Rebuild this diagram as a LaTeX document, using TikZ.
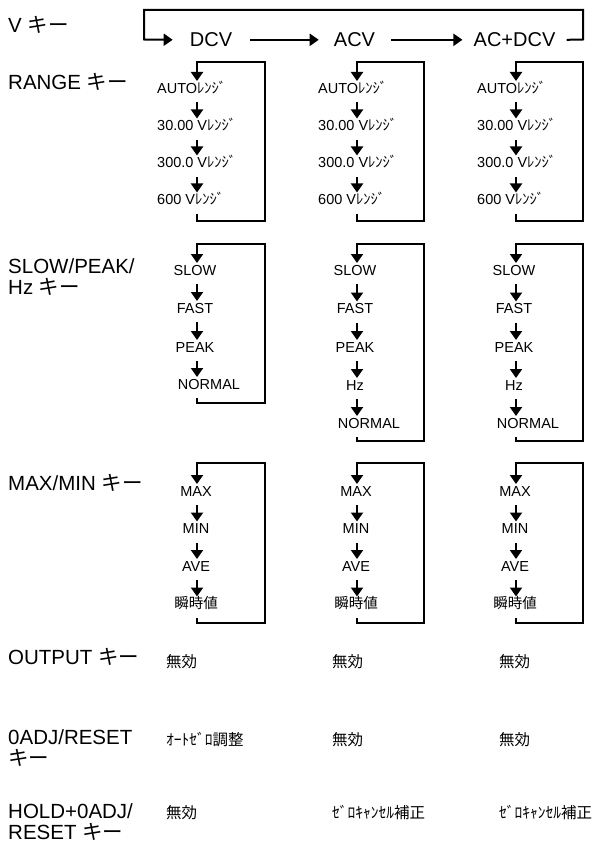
\documentclass[tikz,border=0pt]{standalone}
\usepackage{fontspec}
\setmainfont{Liberation Sans}
\newfontfamily\jp{Noto Sans CJK JP}
\usetikzlibrary{arrows.meta}
\begin{document}
\begin{tikzpicture}[x=1pt,y=-1pt,
  ln/.style={line width=2pt, line join=miter},
  arr/.style={ln, -{Triangle[width=12pt,length=9pt]}},
  lab/.style={anchor=base west, inner sep=0pt, align=left, font=\fontsize{20.5}{21}\selectfont},
  mode/.style={anchor=base, inner sep=0pt, font=\fontsize{20}{24}\selectfont},
  item/.style={anchor=base, inner sep=0pt, text height=12pt, text depth=9pt, font=\fontsize{14.5}{17}\selectfont},
  itemw/.style={item, anchor=base west},
  cell/.style={anchor=base west, inner sep=0pt, font=\fontsize{15.5}{18}\selectfont\jp},
]
\useasboundingbox (0,0) rectangle (597,842);

% key labels (base anchor = baseline of the last line)
\node[lab] (lv)  at (8,32.8)  {V {\jp キー}};
\node[lab] (lr)  at (8,89.9)  {RANGE {\jp キー}};
\node[lab] (ls)  at (8,294.3) {SLOW/PEAK/\\Hz {\jp キー}};
\node[lab] (lm)  at (8,490.8) {MAX/MIN {\jp キー}};
\node[lab] (lo)  at (8,664.3) {OUTPUT {\jp キー}};
\node[lab] (la)  at (8,765.3) {0ADJ/RESET\\{\jp キー}};
\node[lab] (lh)  at (8,839)   {HOLD+0ADJ/\\RESET {\jp キー}};

% V key modes
\node[mode] (dcv)   at (211,46.7)   {DCV};
\node[mode] (acv)   at (354.5,46.7) {ACV};
\node[mode] (acdcv) at (514.5,46.7) {AC+DCV};
\draw[arr] ([xshift=18pt]dcv.east) -- ([xshift=-15pt]acv.west);
\draw[arr] ([xshift=16pt]acv.east) -- ([xshift=-11pt]acdcv.west);
\draw[arr] ([xshift=11pt]acdcv.east) -- (583,39.5) -- (583,10) -- (144,10) -- (144,39.5) -- ([xshift=-17pt]dcv.west);

% RANGE key
\foreach \c/\cx/\rx/\lx in {1/197/265/157, 2/357/424/318, 3/516/583/477} {
  \coordinate (x\c) at (\cx,0);
  \node[itemw] (r\c-a) at (\lx,93.2)  {AUTO{\jp ﾚﾝｼﾞ}};
  \node[itemw] (r\c-b) at (\lx,130.7) {30.00 V{\jp ﾚﾝｼﾞ}};
  \node[itemw] (r\c-c) at (\lx,167.7) {300.0 V{\jp ﾚﾝｼﾞ}};
  \node[itemw] (r\c-d) at (\lx,204.7) {600 V{\jp ﾚﾝｼﾞ}};
  \draw[arr] (r\c-a.south -| x\c) -- (r\c-b.north -| x\c);
  \draw[arr] (r\c-b.south -| x\c) -- (r\c-c.north -| x\c);
  \draw[arr] (r\c-c.south -| x\c) -- (r\c-d.north -| x\c);
  \draw[arr] (r\c-d.south -| x\c) -- (\cx,221) -- (\rx,221) -- (\rx,62) -- (\cx,62) -- (r\c-a.north -| x\c);
}

% SLOW/PEAK/Hz key, DCV column
\node[item] (s1-a) at (195,275.2) {SLOW};
\node[item] (s1-b) at (195,313.2) {FAST};
\node[item] (s1-c) at (195,352.2) {PEAK};
\node[item] (s1-d) at (209,389.2) {NORMAL};
\draw[arr] (s1-a.south -| x1) -- (s1-b.north -| x1);
\draw[arr] (s1-b.south -| x1) -- (s1-c.north -| x1);
\draw[arr] (s1-c.south -| x1) -- (s1-d.north -| x1);
\draw[arr] (s1-d.south -| x1) -- (197,403) -- (265,403) -- (265,244) -- (197,244) -- (s1-a.north -| x1);

% SLOW/PEAK/Hz key, ACV and AC+DCV columns
\foreach \c/\cx/\rx in {2/357/424, 3/516/583} {
  \node[item] (s\c-a) at ({\cx-2},275.2) {SLOW};
  \node[item] (s\c-b) at ({\cx-2},313.7) {FAST};
  \node[item] (s\c-c) at ({\cx-2},352.2) {PEAK};
  \node[item] (s\c-d) at ({\cx-2},390.2) {Hz};
  \node[item] (s\c-e) at ({\cx+12},428.2) {NORMAL};
  \draw[arr] (s\c-a.south -| x\c) -- (s\c-b.north -| x\c);
  \draw[arr] (s\c-b.south -| x\c) -- (s\c-c.north -| x\c);
  \draw[arr] (s\c-c.south -| x\c) -- (s\c-d.north -| x\c);
  \draw[arr] (s\c-d.south -| x\c) -- (s\c-e.north -| x\c);
  \draw[arr] (s\c-e.south -| x\c) -- (\cx,441) -- (\rx,441) -- (\rx,244) -- (\cx,244) -- (s\c-a.north -| x\c);
}

% MAX/MIN key
\foreach \c/\cx/\rx in {1/197/265, 2/357/424, 3/516/583} {
  \node[item] (m\c-a) at ({\cx-1},496.2) {MAX};
  \node[item] (m\c-b) at ({\cx-1},533.7) {MIN};
  \node[item] (m\c-c) at ({\cx-1},571.2) {AVE};
  \node[item] (m\c-d) at ({\cx-1},608.7) {{\jp 瞬時値}};
  \draw[arr] (m\c-a.south -| x\c) -- (m\c-b.north -| x\c);
  \draw[arr] (m\c-b.south -| x\c) -- (m\c-c.north -| x\c);
  \draw[arr] (m\c-c.south -| x\c) -- (m\c-d.north -| x\c);
  \draw[arr] (m\c-d.south -| x\c) -- (\cx,623) -- (\rx,623) -- (\rx,463) -- (\cx,463) -- (m\c-a.north -| x\c);
}

% OUTPUT, 0ADJ/RESET, HOLD+0ADJ/RESET keys
\node[cell] (o1) at (166,667.5) {無効};
\node[cell] (o2) at (332,667.5) {無効};
\node[cell] (o3) at (499,667.5) {無効};
\node[cell] (z1) at (166,745.5) {ｵｰﾄｾﾞﾛ調整};
\node[cell] (z2) at (332,745.5) {無効};
\node[cell] (z3) at (499,745.5) {無効};
\node[cell] (h1) at (166,818.5) {無効};
\node[cell] (h2) at (332,818.5) {ｾﾞﾛｷｬﾝｾﾙ補正};
\node[cell] (h3) at (499,818.5) {ｾﾞﾛｷｬﾝｾﾙ補正};
\end{tikzpicture}
\end{document}
